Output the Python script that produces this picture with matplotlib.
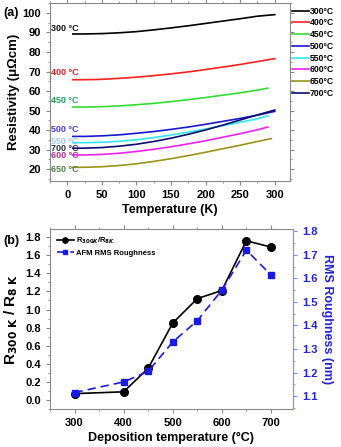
import matplotlib
matplotlib.use("Agg")
import matplotlib.pyplot as plt
from matplotlib.ticker import MultipleLocator
import numpy as np

plt.rcParams['font.family'] = ['Liberation Sans', 'DejaVu Sans']
plt.rcParams['font.weight'] = 'bold'

# ---- panel (a): resistivity vs temperature ----
temp_k = [8, 25, 50, 75, 100, 125, 150, 175, 200, 225, 250, 275, 300]
temp_k_short = [8, 25, 50, 75, 100, 125, 150, 175, 200, 225, 250, 275, 290]
temp_k_650 = [8, 25, 50, 75, 100, 125, 150, 175, 200, 225, 250, 275, 295]

rho_300 = [89.2, 89.2, 89.4, 89.8, 90.4, 91.3, 92.3, 93.4, 94.6, 95.8, 97.0, 98.3, 99.1]
rho_400 = [65.8, 65.8, 66.0, 66.5, 67.1, 67.9, 68.8, 69.8, 71.0, 72.3, 73.6, 75.1, 76.6]
rho_450 = [51.8, 51.8, 52.0, 52.4, 53.0, 53.7, 54.6, 55.6, 56.7, 57.9, 59.1, 60.5, 61.5]
rho_500 = [36.8, 36.8, 37.1, 37.6, 38.4, 39.3, 40.4, 41.6, 43.0, 44.5, 46.0, 47.7, 49.6]
rho_550 = [33.6, 33.6, 33.8, 34.3, 35.1, 36.2, 37.5, 39.0, 40.6, 42.3, 44.0, 45.8, 47.4]
rho_600 = [27.3, 27.3, 27.6, 28.2, 29.1, 30.2, 31.5, 33.0, 34.6, 36.4, 38.2, 40.2, 41.6]
rho_650 = [21.0, 21.0, 21.3, 21.9, 22.8, 24.0, 25.4, 27.0, 28.7, 30.5, 32.3, 34.2, 35.7]
rho_700 = [30.8, 30.8, 31.1, 31.8, 32.8, 34.2, 35.9, 37.9, 40.1, 42.6, 45.2, 47.8, 50.3]

series = [
    ("300", temp_k, rho_300, "#000000", "#111111", 91.8),
    ("400", temp_k, rho_400, "#ff2020", "#e02020", 69.6),
    ("450", temp_k_short, rho_450, "#33dd33", "#22a060", 55.2),
    ("500", temp_k, rho_500, "#1818cc", "#4a3ad0", 40.5),
    ("550", temp_k_short, rho_550, "#33e5ee", "#9ccbe8", 34.4),
    ("600", temp_k_short, rho_600, "#ee22ee", "#b0309a", 27.0),
    ("650", temp_k_650, rho_650, "#9a9418", "#4e8040", 20.0),
    ("700", temp_k, rho_700, "#0c0c70", "#303050", 30.5),
]

# ---- panel (b): ratio and roughness vs deposition temperature ----
dep_temp = [300, 400, 450, 500, 550, 600, 650, 700]
ratio = [0.07, 0.09, 0.35, 0.85, 1.12, 1.21, 1.76, 1.69]
rms = [1.115, 1.16, 1.205, 1.33, 1.42, 1.55, 1.72, 1.615]

fig = plt.figure(figsize=(3.41, 4.47), dpi=100)
spine_col = "#888888"

ax1 = fig.add_axes([0.1466, 0.5951, 0.7038, 0.398])
for name, t, r, lc, tc, ly in series:
    ax1.plot(t, r, color=lc, lw=1.2, label=name + "°C")
    ax1.text(-24, ly, name + " °C", color=tc, fontsize=6.5, va='center', ha='left')
ax1.set_xlim(-25, 322)
ax1.set_ylim(14, 105)
ax1.xaxis.set_major_locator(MultipleLocator(50))
ax1.xaxis.set_minor_locator(MultipleLocator(25))
ax1.yaxis.set_major_locator(MultipleLocator(10))
ax1.yaxis.set_minor_locator(MultipleLocator(5))
ax1.set_xlabel("Temperature (K)", fontsize=9, fontweight='bold', labelpad=3)
ax1.set_ylabel("Resistivity (μΩcm)", fontsize=9.5, fontweight='bold', labelpad=2)
ax1.legend(loc='upper left', bbox_to_anchor=(0.995, 1.0), frameon=False,
           fontsize=6.2, handlelength=1.9, handletextpad=0.15, labelspacing=0.32,
           borderaxespad=0.2, borderpad=0.2)

ax2 = fig.add_axes([0.1466, 0.085, 0.7126, 0.4027])
l1, = ax2.plot(dep_temp, ratio, color='black', lw=1.2, marker='o', ms=5.5,
               label="R$_{300K}$/R$_{8K}$")
ax2.set_xlim(250, 745)
ax2.set_ylim(-0.1, 1.89)
ax2.xaxis.set_major_locator(MultipleLocator(100))
ax2.xaxis.set_minor_locator(MultipleLocator(50))
ax2.yaxis.set_major_locator(MultipleLocator(0.2))
ax2.yaxis.set_minor_locator(MultipleLocator(0.1))
ax2.set_xlabel("Deposition temperature (°C)", fontsize=9, fontweight='bold', labelpad=3)
ax2.set_ylabel("R$_{\\mathbf{300\\ K}}$ / R$_{\\mathbf{8\\ K}}$", fontsize=11,
               fontweight='bold', labelpad=4)

ax3 = ax2.twinx()
l2, = ax3.plot(dep_temp, rms, color='#1a1ae6', lw=1.2, ls=(0, (5, 3)), marker='s',
               ms=5, label="AFM RMS Roughness")
ax3.set_ylim(1.045, 1.81)
ax3.yaxis.set_major_locator(MultipleLocator(0.1))
ax3.yaxis.set_minor_locator(MultipleLocator(0.05))
ax3.set_ylabel("RMS Roughness (nm)", color='#2222dd', fontsize=9, fontweight='bold',
               rotation=270, labelpad=11)
ax3.tick_params(axis='y', colors='#2222dd', labelsize=8, which='both')
ax3.tick_params(axis='y', which='major', length=3, color='#8888ff')
ax3.tick_params(axis='y', which='minor', length=1.5, color='#8888ff')
ax3.spines['right'].set_color('#8888ff')
for s in ['top', 'left', 'bottom']:
    ax3.spines[s].set_visible(False)

ax2.legend(handles=[l1, l2], loc='upper left', frameon=False, fontsize=5.5,
           handlelength=2.2, handletextpad=0.3, labelspacing=0.4, markerscale=0.7,
           borderaxespad=0.5)

for ax in (ax1, ax2):
    for s in ax.spines.values():
        s.set_color(spine_col)
        s.set_linewidth(0.8)
    ax.tick_params(which='both', direction='out', labelsize=8, color=spine_col)
    ax.tick_params(which='major', length=3)
    ax.tick_params(which='minor', length=1.5)
    ax.tick_params(which='both', top=True)
    for lab in ax.get_xticklabels() + ax.get_yticklabels():
        lab.set_fontweight('bold')
ax1.tick_params(which='both', right=True)
ax2.spines['right'].set_color('#8888ff')
for lab in ax3.get_yticklabels():
    lab.set_fontweight('bold')

fig.text(0.01, 0.985, "(a)", fontsize=9, fontweight='bold', va='top')
fig.text(0.01, 0.475, "(b)", fontsize=9, fontweight='bold', va='top')

fig.savefig("out.png", dpi=100)
